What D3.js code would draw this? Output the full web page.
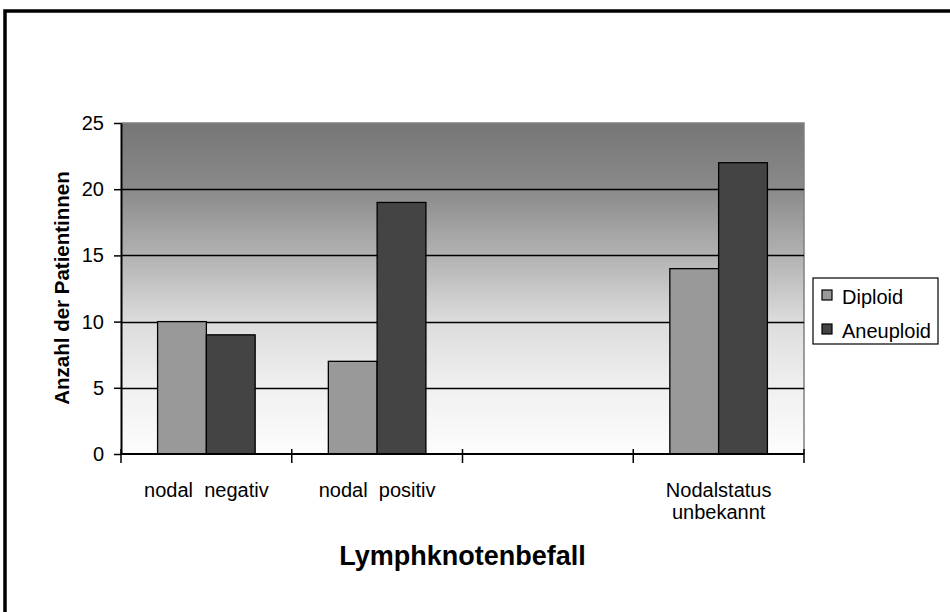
<!DOCTYPE html>
<html>
<head>
<meta charset="utf-8">
<script src="https://cdn.jsdelivr.net/npm/d3@7"></script>
<style>
  body { margin: 0; background: #fff; }
  text { font-family: "Liberation Sans", Arial, sans-serif; fill: #000; }
</style>
</head>
<body>
<div id="chart"></div>
<script>
// data
const categories = ["nodal  negativ", "nodal  positiv", "", "Nodalstatus\nunbekannt"];
const seriesNames = ["Diploid", "Aneuploid"];
const diploid = [10, 7, null, 14];
const aneuploid = [9, 19, null, 22];
const yTicks = [0, 5, 10, 15, 20, 25];
const seriesColors = ["#999999", "#444444"];

const width = 950, height = 612;
const plot = { left: 121, right: 804, top: 123, bottom: 454 };

const svg = d3.select("#chart").append("svg")
    .attr("width", width)
    .attr("height", height);

// outer frame (only top and left edges fall inside the picture)
svg.append("rect")
    .attr("x", 5).attr("y", 11)
    .attr("width", 960).attr("height", 640)
    .attr("fill", "none")
    .attr("stroke", "#000")
    .attr("stroke-width", 3.5);

const defs = svg.append("defs");
const grad = defs.append("linearGradient")
    .attr("id", "bg")
    .attr("x1", 0).attr("y1", 0).attr("x2", 0).attr("y2", 1);
[["0%", "#767676"], ["20%", "#8a8a8a"], ["40%", "#b2b2b2"], ["60%", "#dcdcdc"], ["80%", "#f0f0f0"], ["100%", "#fdfdfd"]]
    .forEach(([o, c]) => grad.append("stop").attr("offset", o).attr("stop-color", c));

const x0 = d3.scaleBand()
    .domain(d3.range(categories.length))
    .range([plot.left, plot.right]);

// excel gap width 150%
const barW = x0.bandwidth() / (seriesNames.length + 1.5);
const x1 = d3.scaleBand()
    .domain(d3.range(seriesNames.length))
    .range([barW * 0.75, x0.bandwidth() - barW * 0.75]);

const y = d3.scaleLinear()
    .domain([0, 25])
    .range([plot.bottom, plot.top]);

// plot area background
svg.append("rect")
    .attr("x", plot.left).attr("y", plot.top)
    .attr("width", plot.right - plot.left)
    .attr("height", plot.bottom - plot.top)
    .attr("fill", "url(#bg)");

svg.append("path")
    .attr("d", `M${plot.left},${plot.top}H${plot.right}V${plot.bottom}`)
    .attr("fill", "none")
    .attr("stroke", "#808080")
    .attr("stroke-width", 1.5);

// gridlines
svg.append("g")
    .selectAll("line")
    .data(yTicks.filter(d => d > 0 && d < 25))
    .enter()
    .append("line")
    .attr("x1", plot.left).attr("x2", plot.right)
    .attr("y1", d => Math.round(y(d)) + 0.5)
    .attr("y2", d => Math.round(y(d)) + 0.5)
    .attr("stroke", "#000")
    .attr("stroke-width", 1.3);

// bars
const seriesData = [diploid, aneuploid];
const groups = svg.append("g")
    .selectAll("g")
    .data(categories.map((c, i) => ({ i, values: seriesData.map((s, k) => ({ k, v: s[i] })) })))
    .enter()
    .append("g")
    .attr("transform", d => `translate(${x0(d.i)},0)`);

groups.selectAll("rect")
    .data(d => d.values.filter(v => v.v != null))
    .enter()
    .append("rect")
    .attr("x", d => x1(d.k))
    .attr("width", x1.bandwidth())
    .attr("y", d => y(d.v))
    .attr("height", d => y(0) - y(d.v))
    .attr("fill", d => seriesColors[d.k])
    .attr("stroke", "#000")
    .attr("stroke-width", 1.3);

// y axis
const yAxis = svg.append("g")
    .attr("transform", `translate(${plot.left},0)`)
    .call(d3.axisLeft(y).tickValues(yTicks).tickSize(7).tickSizeOuter(0).tickPadding(10));
yAxis.select(".domain").attr("stroke", "#000").attr("stroke-width", 2);
yAxis.selectAll(".tick line").attr("stroke", "#000").attr("stroke-width", 1.5);
yAxis.selectAll(".tick text")
    .attr("font-size", 20)
    .attr("font-family", "Liberation Sans, Arial, sans-serif");

// x axis
svg.append("line")
    .attr("x1", plot.left).attr("x2", plot.right)
    .attr("y1", plot.bottom).attr("y2", plot.bottom)
    .attr("stroke", "#000").attr("stroke-width", 2);

const boundaries = d3.range(categories.length).map(i => x0(i)).concat([plot.right]);
svg.append("g")
    .selectAll("line")
    .data(boundaries)
    .enter()
    .append("line")
    .attr("x1", d => d).attr("x2", d => d)
    .attr("y1", plot.bottom - 5).attr("y2", plot.bottom + 9)
    .attr("stroke", "#000").attr("stroke-width", 1.5);

// category labels
const catLabels = svg.append("g")
    .selectAll("text")
    .data(categories)
    .enter()
    .append("text")
    .attr("x", (d, i) => x0(i) + x0.bandwidth() / 2)
    .attr("y", 497)
    .attr("text-anchor", "middle")
    .attr("font-size", 20)
    .style("white-space", "pre");

catLabels.selectAll("tspan")
    .data(d => d.split("\n"))
    .enter()
    .append("tspan")
    .attr("x", function () { return this.parentNode.getAttribute("x"); })
    .attr("dy", (d, i) => i === 0 ? 0 : 22)
    .text(d => d);

// axis titles
svg.append("text")
    .attr("x", (plot.left + plot.right) / 2)
    .attr("y", 565)
    .attr("text-anchor", "middle")
    .attr("font-size", 27)
    .attr("font-weight", "bold")
    .text("Lymphknotenbefall");

svg.append("text")
    .attr("transform", `translate(69,288) rotate(-90)`)
    .attr("text-anchor", "middle")
    .attr("font-size", 20.5)
    .attr("font-weight", "bold")
    .text("Anzahl der Patientinnen");

// legend
const legend = svg.append("g").attr("transform", "translate(813,278)");
legend.append("rect")
    .attr("width", 125).attr("height", 66)
    .attr("fill", "#fff")
    .attr("stroke", "#000")
    .attr("stroke-width", 1.2);

const items = legend.selectAll(".item")
    .data(seriesNames)
    .enter()
    .append("g")
    .attr("class", "item")
    .attr("transform", (d, i) => `translate(0,${i * 34})`);

items.append("rect")
    .attr("x", 9).attr("y", 12)
    .attr("width", 10).attr("height", 10)
    .attr("fill", (d, i) => seriesColors[i])
    .attr("stroke", "#000")
    .attr("stroke-width", 1.2);

items.append("text")
    .attr("x", 29).attr("y", 26)
    .attr("font-size", 20)
    .text(d => d);
</script>
</body>
</html>
